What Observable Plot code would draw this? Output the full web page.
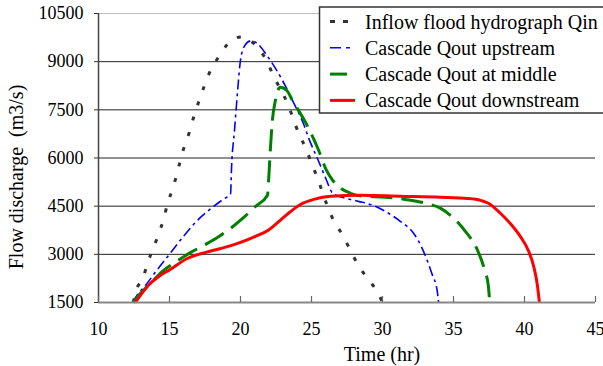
<!DOCTYPE html>
<html>
<head>
<meta charset="utf-8">
<script src="https://cdn.jsdelivr.net/npm/d3@7"></script>
<script src="https://cdn.jsdelivr.net/npm/@observablehq/plot@0.6"></script>
<style>
  html, body { margin: 0; padding: 0; background: #fff; overflow: hidden; }
  #wrap { position: relative; width: 603px; height: 366px; overflow: hidden; }
  #wrap svg, #wrap text { font-family: 'Liberation Serif', 'Times New Roman', serif !important; }
  #wrap g[aria-label$="tick label"] text { font-size: 18px !important; }
  #legend { position: absolute; left: 0; top: 0; pointer-events: none; }
</style>
</head>
<body>
<div id="wrap"></div>
<script>
// ---- data ----
const xTicks = [10, 15, 20, 25, 30, 35, 40, 45];
const yTicks = [1500, 3000, 4500, 6000, 7500, 9000, 10500];

const seriesNames = [
  "Inflow flood hydrograph Qin",
  "Cascade Qout upstream",
  "Cascade Qout at middle",
  "Cascade Qout downstream"
];

const qinTime = [12.45, 12.6, 13.15, 13.45, 13.85, 14.25, 14.6, 14.85, 15.2, 15.5, 15.75, 16.05, 16.4, 16.7, 17.05, 17.4, 17.8, 18.4, 19.1, 20.05, 21.05, 21.85, 22.3, 23.3, 24.1, 24.6, 25.0, 25.4, 26.1, 26.55, 27.2, 27.75, 28.3, 28.95, 29.7, 30.0];
const qinFlow = [1500, 1810, 2280, 2720, 3180, 3650, 4120, 4560, 5020, 5460, 5900, 6370, 6800, 7270, 7740, 8180, 8640, 9110, 9550, 9770, 9520, 9020, 8580, 7710, 6770, 6300, 5840, 5400, 4530, 4060, 3590, 3120, 2650, 2250, 1780, 1500];

const upTime = [12.4, 12.75, 13.25, 14.0, 15.15, 16.15, 17.2, 17.9, 18.8, 19.3, 19.37, 19.58, 19.8, 20.0, 20.3, 20.75, 21.2, 21.85, 22.95, 23.65, 24.45, 24.8, 25.5, 26.0, 26.5, 27.45, 28.3, 29.3, 30.3, 31.25, 32.2, 32.8, 33.5, 33.85, 33.95];
const upFlow = [1500, 1750, 2000, 2440, 3090, 3650, 4160, 4420, 4720, 4880, 5700, 6870, 8110, 9050, 9500, 9650, 9560, 9200, 8420, 7800, 7050, 6620, 5900, 5370, 4900, 4740, 4650, 4530, 4310, 4030, 3650, 3180, 2370, 1870, 1500];

const midTime = [12.45, 12.95, 13.65, 14.5, 15.4, 16.5, 17.55, 18.4, 19.3, 20.15, 21.05, 21.9, 21.98, 22.1, 22.22, 22.46, 22.8, 23.25, 23.65, 24.65, 25.5, 26.05, 26.5, 27.05, 27.75, 28.6, 30.2, 31.6, 33.05, 34.1, 34.95, 35.85, 36.7, 37.2, 37.45, 37.55];
const midFlow = [1500, 1780, 2090, 2470, 2750, 3060, 3310, 3530, 3810, 4120, 4490, 4840, 5300, 6240, 7050, 7800, 8200, 8110, 7800, 7050, 6240, 5620, 5300, 5060, 4900, 4810, 4780, 4710, 4590, 4430, 4150, 3710, 3120, 2500, 2030, 1500];

const downTime = [12.6, 12.95, 13.5, 14.15, 15.05, 16.25, 17.55, 18.6, 20.0, 21.05, 21.95, 22.3, 22.8, 23.3, 24.25, 25.15, 26.35, 28.45, 31.25, 34.1, 36.0, 36.9, 37.45, 38.3, 39.0, 39.7, 40.3, 40.65, 40.9, 41.05];
const downFlow = [1500, 1720, 2030, 2280, 2530, 2870, 3060, 3180, 3370, 3560, 3750, 3870, 4060, 4250, 4560, 4710, 4810, 4840, 4810, 4780, 4740, 4680, 4590, 4280, 3960, 3560, 3090, 2620, 2060, 1500];

// ---- styles ----
const styles = [
  {stroke: "#333333", strokeWidth: 3, dash: "4,12", legendDash: "5,8"},
  {stroke: "#0000ff", strokeWidth: 1.6, dash: "10,4,3,4", legendDash: "11,5,4,5"},
  {stroke: "#008000", strokeWidth: 3, dash: "22,9", legendDash: "17,40"},
  {stroke: "#ff0000", strokeWidth: 3, dash: null, legendDash: null}
];

const toRows = (ts, qs) => ts.map((t, i) => ({t, q: qs[i]}));
const tables = [
  toRows(qinTime, qinFlow),
  toRows(upTime, upFlow),
  toRows(midTime, midFlow),
  toRows(downTime, downFlow)
];

const W = 603, H = 366;
const mL = 98, mR = 8, mT = 13, mB = 64;
const font = "'Liberation Serif', 'Times New Roman', serif";

const lineMarks = tables.map((rows, i) => Plot.line(rows, {
  x: "t", y: "q",
  stroke: styles[i].stroke,
  strokeWidth: styles[i].strokeWidth,
  strokeDasharray: styles[i].dash || undefined,
  strokeLinecap: "butt",
  curve: "monotone-x"
}));

const chart = Plot.plot({
  width: W, height: H,
  marginLeft: mL, marginRight: mR, marginTop: mT, marginBottom: mB,
  style: {fontFamily: font, fontSize: "18px", color: "#000", background: "#fff", overflow: "visible"},
  x: {domain: [10, 45]},
  y: {domain: [1500, 10500]},
  marks: [
    Plot.ruleY(yTicks.filter(d => d > 1500 && d < 10500), {stroke: "#222", strokeWidth: 1}),
    Plot.ruleY([10500], {stroke: "#bdbdbd", strokeWidth: 1.2}),
    ...lineMarks,
    Plot.ruleX([10], {stroke: "#444", strokeWidth: 1.5}),
    Plot.ruleY([1500], {stroke: "#888", strokeWidth: 2}),
    Plot.tickX(xTicks, {x: d => d, insetTop: (H - mT - mB) - 6, stroke: "#666", strokeWidth: 1.2}),
    Plot.axisY({ticks: yTicks, tickSize: 4, tickPadding: 11, tickFormat: d => String(d), label: null, stroke: "#333", fontSize: 18, fontFamily: font}),
    Plot.axisX({ticks: xTicks, tickSize: 0, tickPadding: 20, tickFormat: d => String(d), label: null, fontSize: 18, fontFamily: font}),
    Plot.text(["Flow discharge  (m3/s)"], {frameAnchor: "left", textAnchor: "middle", lineAnchor: "middle", dx: -82, dy: 19, rotate: -90, fontSize: 20, fontFamily: font, fill: "#000", text: d => d}),
    Plot.text(["Time (hr)"], {frameAnchor: "bottom", textAnchor: "middle", lineAnchor: "middle", dx: 35, dy: 51.6, fontSize: 20, fontFamily: font, fill: "#000", text: d => d})
  ]
});

const wrap = document.getElementById("wrap");
wrap.appendChild(chart);

// ---- legend overlay ----
const ns = "http://www.w3.org/2000/svg";
const lg = document.createElementNS(ns, "svg");
lg.setAttribute("id", "legend");
lg.setAttribute("width", W);
lg.setAttribute("height", H);
const box = document.createElementNS(ns, "rect");
box.setAttribute("x", 319.5); box.setAttribute("y", 7);
box.setAttribute("width", 300); box.setAttribute("height", 106);
box.setAttribute("fill", "#fff"); box.setAttribute("stroke", "#333"); box.setAttribute("stroke-width", 1.5);
lg.appendChild(box);
seriesNames.forEach((name, i) => {
  const base = 28.5 + 26.3 * i;
  const ly = base - 7;
  const ln = document.createElementNS(ns, "line");
  ln.setAttribute("x1", 330); ln.setAttribute("x2", 355);
  ln.setAttribute("y1", ly); ln.setAttribute("y2", ly);
  ln.setAttribute("stroke", styles[i].stroke);
  ln.setAttribute("stroke-width", styles[i].strokeWidth);
  if (styles[i].legendDash) ln.setAttribute("stroke-dasharray", styles[i].legendDash);
  lg.appendChild(ln);
  const tx = document.createElementNS(ns, "text");
  tx.setAttribute("x", 365); tx.setAttribute("y", base);
  tx.setAttribute("font-family", font); tx.setAttribute("font-size", 20);
  tx.setAttribute("fill", "#000");
  tx.textContent = name;
  lg.appendChild(tx);
});
wrap.appendChild(lg);
</script>
</body>
</html>
